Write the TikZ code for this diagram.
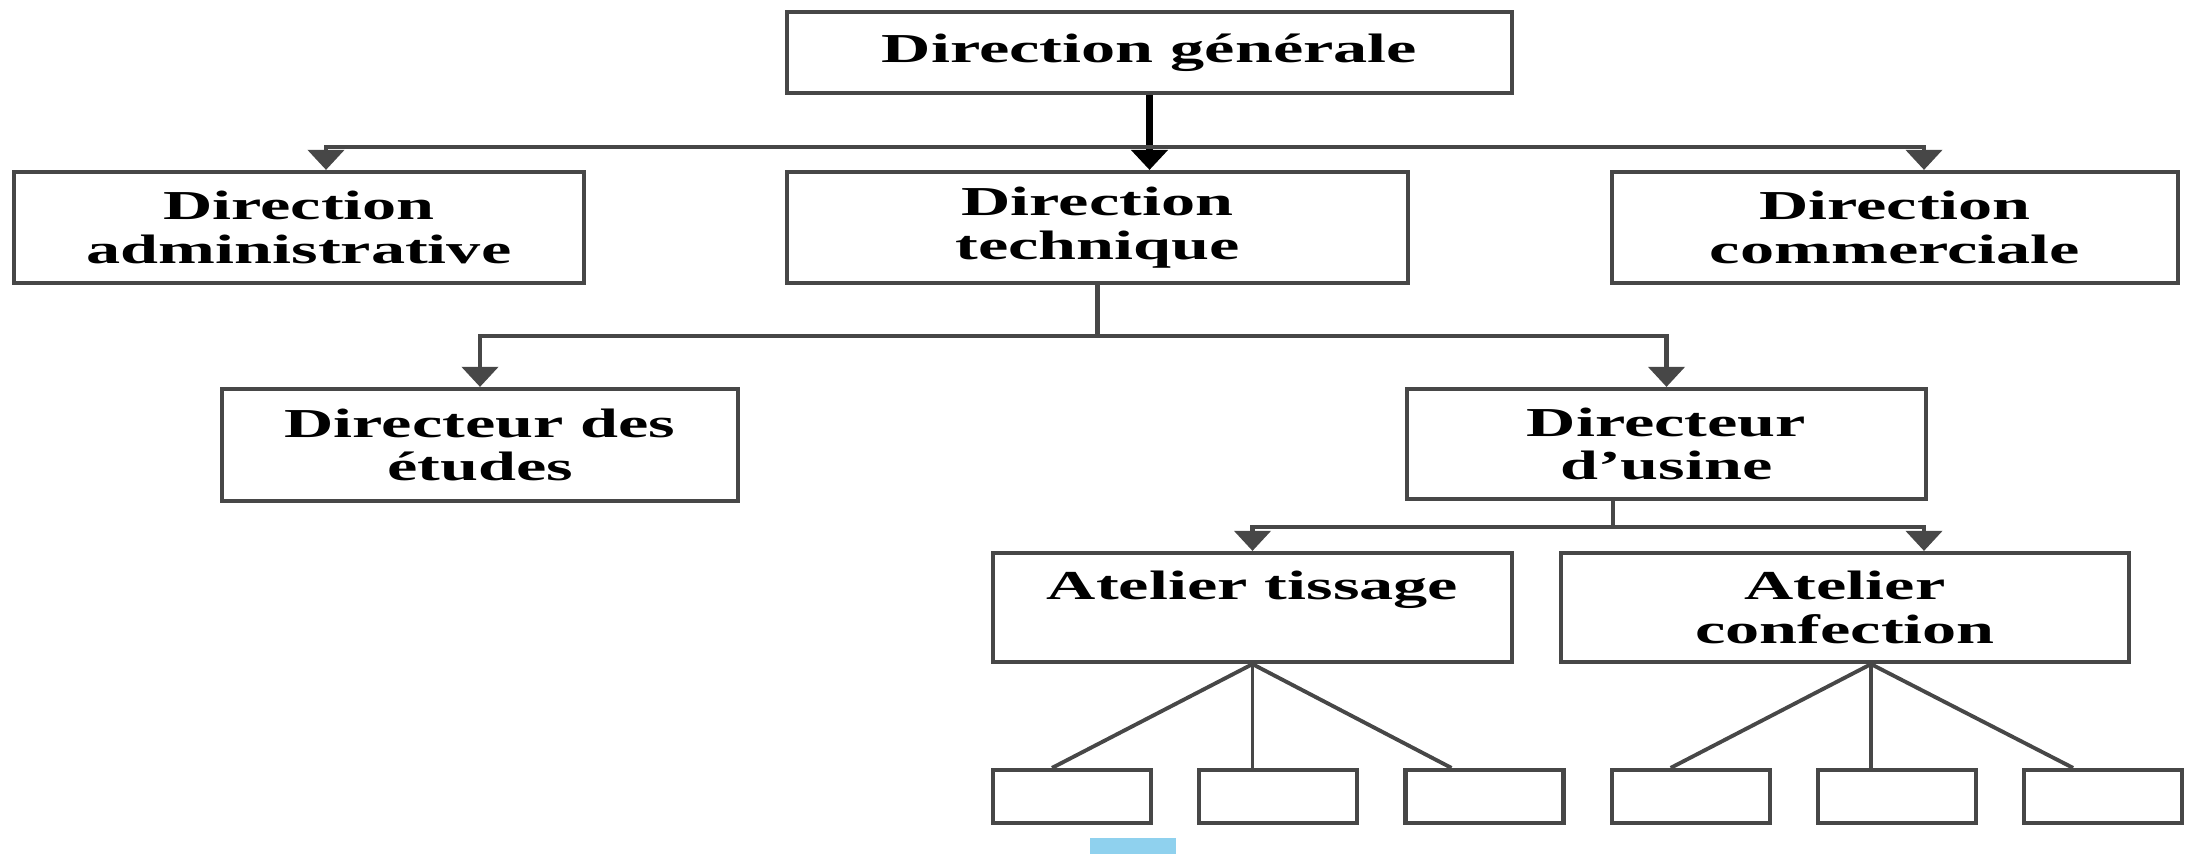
\documentclass[tikz,border=0pt]{standalone}
\usepackage{fontspec}
\newfontfamily\orgfont[FakeStretch=1.66]{Liberation Serif}
\usepackage{xcolor}
\usepackage{tikz}
\usetikzlibrary{positioning}
\usetikzlibrary{shapes,arrows.meta}
\definecolor{edgegray}{HTML}{474747}
\definecolor{barblue}{HTML}{8FD1EE}
\tikzstyle{block} = [rectangle, draw=edgegray, line width=1.2pt, fill=white,
align=center, inner sep=0pt, minimum height=1.11cm, font=\orgfont\bfseries\fontsize{11.7}{12.5}\selectfont]
\tikzstyle{leaf} = [rectangle, draw=edgegray, line width=1.2pt, minimum width=1.58cm, minimum height=0.53cm, inner sep=0pt]
\tikzstyle{line} = [draw=edgegray, line width=1.2pt, -{Triangle[length=2mm,width=3.6mm]}]
\tikzstyle{branch} = [draw=edgegray, line width=1.1pt]

\begin{document}
\begin{tikzpicture}[node distance = 0.44cm]
   \useasboundingbox (0,0) rectangle (21.85,-8.54);
    % nodes
   \node [block, minimum width=7.25cm, minimum height=0.81cm] (dg) at (11.495,-0.525) {Direction générale};
   \node [block, minimum width=5.70cm] (da) at (2.99,-2.275) {Direction\\administrative};
   \node [block, minimum width=6.21cm] (dt) at (10.975,-2.275) {Direction\\technique};
   \node [block, minimum width=5.66cm] (dc) at (18.95,-2.275) {Direction\\commerciale};
   \node [block, minimum width=5.16cm, minimum height=1.12cm] (de) at (4.80,-4.45) {Directeur des\\études};
   \node [block, minimum width=5.19cm, minimum height=1.10cm] (du) at (16.665,-4.44) {Directeur\\d’usine};
   \node [block, minimum width=5.19cm, minimum height=1.09cm] (tiss) at (12.525,-6.075) {Atelier tissage\\\mbox{}};
   \node [block, minimum width=5.68cm, minimum height=1.09cm] (conf) at (18.45,-6.075) {Atelier\\confection};
   \node [leaf] (s1) at (10.72,-7.965) {};
   \node [leaf, right=of s1] (s2) {};
   \node [leaf, right=of s2] (s3) {};
   \node [leaf, right=of s3] (s4) {};
   \node [leaf, right=of s4] (s5) {};
   \node [leaf, right=of s5] (s6) {};
   \node [fill=barblue, minimum width=0.86cm, minimum height=0.16cm, inner sep=0pt] (mark) at (11.33,-8.46) {};

    % edges
          \draw [line, draw=black, line width=2pt] (dg.south) -- (dg.south |- dt.north);
          \coordinate (j1) at (dg.south |- 0,-1.47);
          \draw [line] (j1) -| ([xshift=0.27cm]da.north);
          \draw [line] (j1) -| ([xshift=0.29cm]dc.north);
          \draw [line] (dt.south) -- ++(0,-0.51) -| (de.north);
          \draw [line] (dt.south) -- ++(0,-0.51) -| (du.north);
          \draw [line] ([xshift=-0.535cm]du.south) -- ++(0,-0.26) -| (tiss.north);
          \draw [line] ([xshift=-0.535cm]du.south) -- ++(0,-0.26) -| ([xshift=0.79cm]conf.north);
          \coordinate (tapex) at (tiss.south);
          \coordinate (capex) at ([xshift=0.26cm]conf.south);
          \path [branch] (tapex) -- ([xshift=-0.2cm]s1.north);
          \path [branch] (tapex) -- (tapex |- s2.north);
          \path [branch] (tapex) -- ([xshift=-0.33cm]s3.north);
          \path [branch] (capex) -- ([xshift=-0.2cm]s4.north);
          \path [branch] (capex) -- (capex |- s5.north);
          \path [branch] (capex) -- ([xshift=-0.3cm]s6.north);

\end{tikzpicture}
\end{document}
